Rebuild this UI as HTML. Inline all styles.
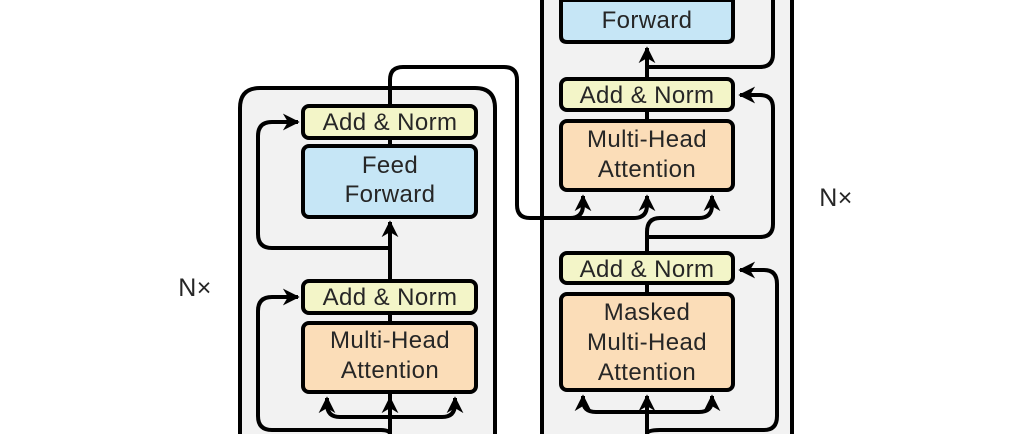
<!DOCTYPE html>
<html><head><meta charset="utf-8"><style>
html,body{margin:0;padding:0;background:#fff;width:1024px;height:434px;overflow:hidden}
svg{display:block}
svg text{font-family:"Liberation Sans",sans-serif;fill:#262626;font-size:24px;letter-spacing:0.4px;text-anchor:middle}
</style></head><body>
<svg width="1024" height="434" viewBox="0 0 1024 434" xmlns="http://www.w3.org/2000/svg">
<defs>
<marker id="a" viewBox="0 0 10 10" refX="9" refY="5" markerWidth="4.2" markerHeight="4.2" orient="auto-start-reverse" markerUnits="strokeWidth">
<path d="M0,0 L10,5 L0,10 L3,5 z" fill="#000"/></marker>
</defs>
<!-- containers (open at frame edges) -->
<path d="M240 434 V108 Q240 88 260 88 H475 Q495 88 495 108 V434 Z" fill="#f2f2f2"/>
<path d="M240 434 V108 Q240 88 260 88 H475 Q495 88 495 108 V434" fill="none" stroke="#000" stroke-width="4"/>
<rect x="542" y="0" width="250" height="434" fill="#f2f2f2"/>
<path d="M542 0 V434 M792 0 V434" fill="none" stroke="#000" stroke-width="4"/>
<g fill="none" stroke="#000" stroke-width="4" stroke-linejoin="round">
<!-- encoder lines -->
<path d="M390 434 V252" />
<path d="M390 252 V222" marker-end="url(#a)"/>
<path d="M390 248 H272 Q258 248 258 234 V136 Q258 122 272 122 H298" marker-end="url(#a)"/>
<path d="M390 106 V80 Q390 67 403 67 H504 Q517 67 517 80 V205 Q517 218 530 218 H570 Q583 218 583 205 V196" marker-end="url(#a)"/>
<path d="M560 218 H634 Q647 218 647 205 V196" marker-end="url(#a)"/>
<path d="M390 138 V146"/>
<path d="M390 313 V323"/>
<path d="M390 434 V398" marker-end="url(#a)"/>
<path d="M390 417 H340 Q327 417 327 404 V398" marker-end="url(#a)"/>
<path d="M390 417 H442 Q455 417 455 404 V398" marker-end="url(#a)"/>
<path d="M390 434 Q390 430 380 430 H272 Q258 430 258 416 V311 Q258 297 272 297 H298" marker-end="url(#a)"/>
<!-- decoder lines -->
<path d="M647 434 V396" marker-end="url(#a)"/>
<path d="M647 412 H596 Q583 412 583 400 V396" marker-end="url(#a)"/>
<path d="M647 412 H699 Q712 412 712 400 V396" marker-end="url(#a)"/>
<path d="M647 434 Q647 430 660 430 H764 Q777 430 777 416 V284 Q777 270 764 270 H740" marker-end="url(#a)"/>
<path d="M647 283 V294"/>
<path d="M647 253 V232 Q647 218 660 218 H699 Q712 218 712 205 V196" marker-end="url(#a)"/>
<path d="M647 237 H760 Q773 237 773 224 V108 Q773 95 760 95 H740" marker-end="url(#a)"/>
<path d="M647 110 V121"/>
<path d="M647 79 V48" marker-end="url(#a)"/>
<path d="M647 67 H760 Q773 67 773 54 V0"/>
</g>
<!-- boxes -->
<g stroke="#000" stroke-width="4">
<rect x="303" y="106" width="173" height="32" rx="6" fill="#f3f5c8"/>
<rect x="303" y="146" width="173" height="71" rx="6" fill="#c6e6f6"/>
<rect x="303" y="281" width="173" height="32" rx="6" fill="#f3f5c8"/>
<rect x="303" y="323" width="173" height="69" rx="6" fill="#fbddb8"/>
<path d="M561 0 V36 Q561 42 567 42 H727 Q733 42 733 36 V0 Z" fill="#c6e6f6"/>
<rect x="561" y="79" width="172" height="31" rx="6" fill="#f3f5c8"/>
<rect x="561" y="121" width="172" height="69" rx="6" fill="#fbddb8"/>
<rect x="561" y="253" width="172" height="30" rx="6" fill="#f3f5c8"/>
<rect x="561" y="294" width="172" height="96" rx="6" fill="#fbddb8"/>
</g>
<text x="390" y="130">Add &amp; Norm</text>
<text x="390" y="173">Feed</text>
<text x="390" y="202">Forward</text>
<text x="390" y="305">Add &amp; Norm</text>
<text x="390" y="348">Multi-Head</text>
<text x="390" y="378">Attention</text>
<text x="647" y="28">Forward</text>
<text x="647" y="103">Add &amp; Norm</text>
<text x="647" y="147">Multi-Head</text>
<text x="647" y="177">Attention</text>
<text x="647" y="277">Add &amp; Norm</text>
<text x="647" y="320">Masked</text>
<text x="647" y="350">Multi-Head</text>
<text x="647" y="380">Attention</text>
<text x="195" y="296" style="font-size:25px">N×</text>
<text x="836" y="206" style="font-size:25px">N×</text>
</svg>
</body></html>
